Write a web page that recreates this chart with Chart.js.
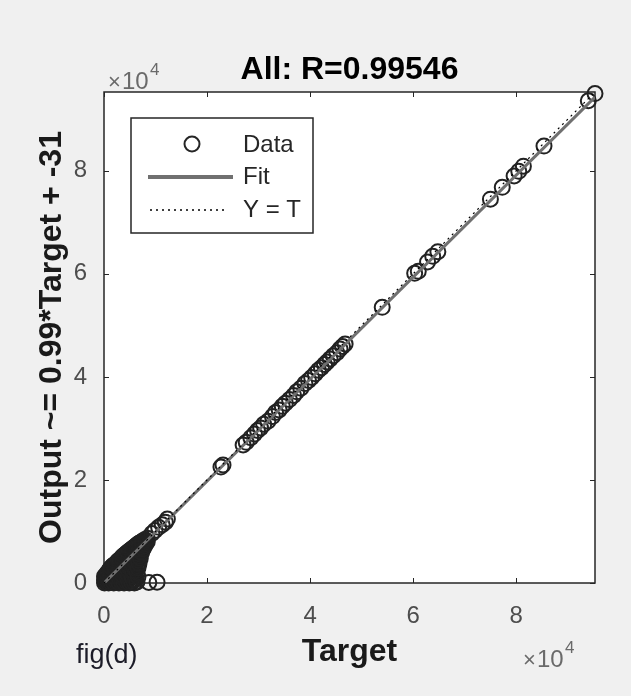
<!DOCTYPE html>
<html>
<head>
<meta charset="utf-8">
<script src="https://cdn.jsdelivr.net/npm/chart.js@4.4.0/dist/chart.umd.min.js"></script>
<style>
  html, body { margin: 0; padding: 0; background: #f0f0f0; }
  canvas { display: block; }
</style>
</head>
<body>
<canvas id="regChart" width="631" height="696"></canvas>
<script>
// dense cluster near the origin (Target, Output)
const clusterTarget = [
  100, 100, 100,
  300, 300,
  500, 500, 500,
  700, 700, 700,
  900, 900, 900, 900,
  1150, 1150, 1150, 1150,
  1400, 1400, 1400, 1400, 1400,
  1650, 1650, 1650, 1650, 1650,
  1900, 1900, 1900, 1900, 1900, 1900,
  2150, 2150, 2150, 2150, 2150,
  2400, 2400, 2400, 2400, 2400, 2400,
  2650, 2650, 2650, 2650, 2650, 2650,
  2900, 2900, 2900, 2900, 2900, 2900, 2900,
  3150, 3150, 3150, 3150, 3150, 3150,
  3400, 3400, 3400, 3400, 3400, 3400, 3400,
  3650, 3650, 3650, 3650, 3650, 3650, 3650,
  3900, 3900, 3900, 3900, 3900, 3900, 3900, 3900,
  4150, 4150, 4150, 4150, 4150, 4150, 4150,
  4400, 4400, 4400, 4400, 4400, 4400, 4400, 4400,
  4650, 4650, 4650, 4650, 4650, 4650, 4650, 4650,
  4900, 4900, 4900, 4900, 4900, 4900, 4900, 4900,
  5150, 5150, 5150, 5150, 5150, 5150, 5150, 5150,
  5400, 5400, 5400, 5400, 5400, 5400, 5400, 5400,
  5650, 5650, 5650, 5650, 5650, 5650, 5650,
  5900, 5900, 5900, 5900, 5900, 5900, 5900, 5900,
  6150, 6150, 6150, 6150, 6150, 6150, 6150,
  6400, 6400, 6400, 6400, 6400, 6400, 6400, 6400,
  6600, 6600, 6600, 6600, 6600, 6600,
  6800, 6800, 6800, 6800, 6800,
  7050, 7050, 7050, 7050,
  7300, 7300, 7300, 7300,
  7600, 7600, 7600,
  7900, 7900, 7900,
  8100, 8100,
  8400, 8400,
  8700, 10300,
  9300, 9900, 10600, 11300, 11900, 12300
];
const clusterOutput = [
  0, 600, 1300,
  300, 1000,
  100, 900, 1800,
  400, 1200, 1900,
  0, 700, 1500, 2300,
  300, 1100, 1900, 2700,
  100, 900, 1700, 2500, 3000,
  400, 1200, 2000, 2800, 3300,
  0, 800, 1600, 2400, 3100, 3500,
  500, 1300, 2100, 2900, 3600,
  200, 1000, 1800, 2600, 3300, 3900,
  400, 1300, 2100, 2900, 3700, 4200,
  0, 900, 1700, 2500, 3300, 4000, 4400,
  500, 1400, 2300, 3100, 3900, 4600,
  100, 1100, 2000, 2800, 3600, 4300, 4900,
  400, 1300, 2200, 3100, 3900, 4600, 5200,
  0, 800, 1800, 2700, 3500, 4300, 4900, 5400,
  500, 1600, 2600, 3500, 4300, 5000, 5600,
  200, 1200, 2200, 3100, 3900, 4700, 5300, 5800,
  500, 1500, 2500, 3400, 4200, 5000, 5700, 6000,
  0, 900, 1900, 2900, 3800, 4600, 5300, 6200,
  500, 1600, 2600, 3600, 4500, 5400, 6100, 6400,
  100, 1300, 2400, 3400, 4400, 5300, 6000, 6600,
  600, 2000, 3200, 4300, 5300, 6100, 6800,
  0, 1600, 2800, 3900, 4900, 5800, 6500, 7000,
  700, 2400, 3700, 4900, 5900, 6700, 7200,
  200, 2000, 3300, 4500, 5600, 6400, 7000, 7400,
  1200, 2900, 4400, 5700, 6700, 7500,
  3800, 5200, 6200, 7000, 7700,
  4800, 6100, 7100, 7800,
  5900, 6900, 7600, 8000,
  6600, 7400, 8200,
  7200, 7900, 8400,
  7600, 8300,
  8000, 8700,
  100, 150,
  9600, 10200, 10800, 11300, 11800, 12400
];

// points spread along the diagonal
const lineTarget = [
  22700, 23100, 27000, 27600, 28500, 29200, 29800, 30400, 31000, 31800,
  32700, 33300, 34000, 34600, 35200, 36000, 36800, 37400, 38200, 39000,
  39700, 40300, 41000, 41600, 42200, 42800, 43300, 43900, 44500, 45200,
  45800, 46300, 46800, 54000, 60300, 61000, 62800, 63800, 64800, 75000,
  77300, 79600, 80500, 81400, 85400, 94000, 95300
];
const lineOutput = [
  22500, 22900, 26800, 27300, 28200, 28900, 29600, 30100, 30800, 31400,
  32300, 33100, 33600, 34300, 34900, 35600, 36400, 37100, 37800, 38700,
  39300, 39900, 40600, 41300, 41800, 42400, 42900, 43500, 44100, 44700,
  45400, 45900, 46400, 53500, 60100, 60500, 62300, 63400, 64300, 74500,
  76800, 79000, 79900, 80900, 84800, 93600, 95000
];

const fitX = [0, 95300];
const fitY = [-31, 94316];
const identX = [0, 95300];
const identY = [0, 95300];

const axisMin = 0;
const axisMax = 95300;
const xTicks = [0, 20000, 40000, 60000, 80000];
const yTicks = [0, 20000, 40000, 60000, 80000];

const titleText = 'All: R=0.99546';

const FONT = "'Liberation Sans', Arial, Helvetica, sans-serif";
Chart.defaults.font.family = FONT;

const points = clusterTarget.map((t, i) => ({ x: t, y: clusterOutput[i] }))
  .concat(lineTarget.map((t, i) => ({ x: t, y: lineOutput[i] })));

// white plot area, box, inward ticks, legend and loose texts
const decor = {
  id: 'decor',
  beforeDraw(chart) {
    const { ctx, chartArea: a } = chart;
    ctx.save();
    ctx.fillStyle = '#ffffff';
    ctx.fillRect(a.left, a.top, a.right - a.left, a.bottom - a.top);
    ctx.restore();
  },
  beforeDatasetsDraw(chart) {
    const { ctx, chartArea: a, scales } = chart;
    ctx.save();
    ctx.strokeStyle = '#262626';
    ctx.lineWidth = 1;
    xTicks.forEach(v => {
      const px = Math.round(scales.x.getPixelForValue(v)) + 0.5;
      ctx.beginPath();
      ctx.moveTo(px, a.bottom); ctx.lineTo(px, a.bottom - 5);
      ctx.moveTo(px, a.top); ctx.lineTo(px, a.top + 5);
      ctx.stroke();
    });
    yTicks.forEach(v => {
      const py = Math.round(scales.y.getPixelForValue(v)) + 0.5;
      ctx.beginPath();
      ctx.moveTo(a.left, py); ctx.lineTo(a.left + 5, py);
      ctx.moveTo(a.right, py); ctx.lineTo(a.right - 5, py);
      ctx.stroke();
    });
    ctx.lineWidth = 1.5;
    ctx.strokeRect(a.left, a.top, a.right - a.left, a.bottom - a.top);
    ctx.restore();
  },
  afterDraw(chart) {
    const { ctx, chartArea: a } = chart;
    const ds = chart.data.datasets;
    ctx.save();

    // title
    ctx.fillStyle = '#000';
    ctx.font = 'bold 32px ' + FONT;
    ctx.textAlign = 'center';
    ctx.textBaseline = 'alphabetic';
    ctx.fillText(titleText, (a.left + a.right) / 2, 79);

    // x10^4 exponent labels
    ctx.textAlign = 'left';
    ctx.fillStyle = '#6a6a6a';
    const expo = (x, y) => {
      ctx.font = '22px ' + FONT;
      ctx.fillText('\u00d7', x, y);
      ctx.font = '24px ' + FONT;
      ctx.fillText('10', x + 14, y);
      ctx.font = '17px ' + FONT;
      ctx.fillText('4', x + 42, y - 14);
    };
    expo(108, 89);
    expo(523, 667);

    // caption
    ctx.fillStyle = '#1c1c28';
    ctx.font = '27px ' + FONT;
    ctx.fillText('fig(d)', 76, 663);

    // legend
    const lx = 131, ly = 118, lw = 182, lh = 115;
    ctx.fillStyle = '#fff';
    ctx.fillRect(lx, ly, lw, lh);
    ctx.strokeStyle = '#262626';
    ctx.lineWidth = 1.5;
    ctx.strokeRect(lx, ly, lw, lh);

    ctx.lineWidth = 2;
    ctx.beginPath();
    ctx.arc(192, 144, 7.5, 0, Math.PI * 2);
    ctx.stroke();

    ctx.strokeStyle = ds[1].borderColor;
    ctx.lineWidth = 4;
    ctx.beginPath();
    ctx.moveTo(148, 177); ctx.lineTo(233, 177);
    ctx.stroke();

    ctx.strokeStyle = '#000';
    ctx.lineWidth = 1.5;
    ctx.setLineDash([2, 4]);
    ctx.beginPath();
    ctx.moveTo(150, 210); ctx.lineTo(228, 210);
    ctx.stroke();
    ctx.setLineDash([]);

    ctx.fillStyle = '#262626';
    ctx.font = '24px ' + FONT;
    ctx.textBaseline = 'middle';
    ctx.fillText(ds[0].label, 243, 145);
    ctx.fillText(ds[1].label, 243, 177);
    ctx.fillText(ds[2].label, 243, 210);
    ctx.restore();
  }
};

const ctx = document.getElementById('regChart').getContext('2d');
const chart = new Chart(ctx, {
  type: 'scatter',
  data: {
    datasets: [
      {
        label: 'Data',
        data: points,
        pointStyle: 'circle',
        pointRadius: 7.5,
        pointBorderWidth: 2,
        borderColor: '#222222',
        backgroundColor: 'rgba(0,0,0,0)',
        clip: false,
        order: 3
      },
      {
        label: 'Fit',
        type: 'line',
        data: fitX.map((x, i) => ({ x: x, y: fitY[i] })),
        borderColor: '#707070',
        borderWidth: 3,
        pointRadius: 0,
        order: 2
      },
      {
        label: 'Y = T',
        type: 'line',
        data: identX.map((x, i) => ({ x: x, y: identY[i] })),
        borderColor: '#000',
        borderWidth: 1.2,
        borderDash: [2, 4],
        pointRadius: 0,
        order: 1
      }
    ]
  },
  options: {
    responsive: false,
    animation: false,
    layout: { padding: { top: 92, right: 36, left: 0, bottom: 0 } },
    plugins: {
      legend: { display: false },
      tooltip: { enabled: false }
    },
    scales: {
      x: {
        type: 'linear',
        min: axisMin,
        max: axisMax,
        grid: { display: false },
        border: { display: false },
        afterBuildTicks: s => { s.ticks = xTicks.map(v => ({ value: v })); },
        afterFit: s => { s.height = 113; },
        ticks: {
          padding: 11,
          color: '#4d4d4d',
          font: { size: 24 },
          maxRotation: 0,
          callback: v => String(v / 10000)
        },
        title: {
          display: true,
          text: 'Target',
          color: '#1a1a1a',
          font: { size: 32, weight: 'bold' },
          padding: { top: 0, bottom: 25 }
        }
      },
      y: {
        type: 'linear',
        min: axisMin,
        max: axisMax,
        grid: { display: false },
        border: { display: false },
        afterBuildTicks: s => { s.ticks = yTicks.map(v => ({ value: v })); },
        afterFit: s => { s.width = 104; },
        ticks: {
          padding: 9,
          color: '#4d4d4d',
          font: { size: 24 },
          callback: v => String(v / 10000)
        },
        title: {
          display: true,
          text: 'Output ~= 0.99*Target + -31',
          color: '#1a1a1a',
          font: { size: 32, weight: 'bold' },
          padding: { top: 33, bottom: 0 }
        }
      }
    }
  },
  plugins: [decor]
});
</script>
</body>
</html>
